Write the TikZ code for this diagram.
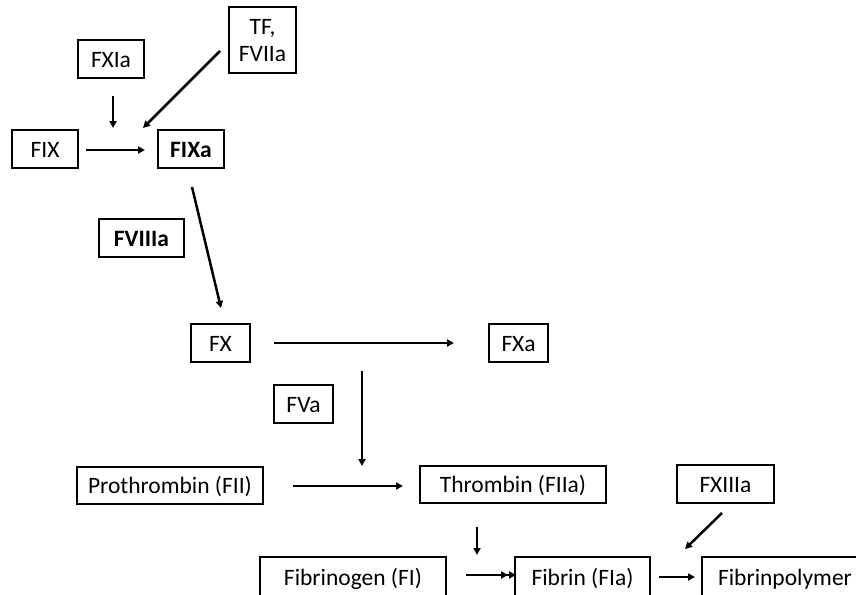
\documentclass[tikz,border=0pt]{standalone}
\usepackage{fontspec}
\setmainfont{Carlito}
\usetikzlibrary{arrows.meta}
\tikzset{
  box/.style={draw=black, line width=1.2pt, rectangle, inner sep=0pt,
    font=\fontsize{23.5}{27}\selectfont, text height=19.5pt, text depth=3pt},
  emptybox/.style={draw=black, line width=1.2pt, rectangle, inner sep=0pt},
  lbl/.style={font=\fontsize{23.5}{27}\selectfont, inner sep=0pt, anchor=base},
  arr/.style={line width=2.5pt, -{Triangle[length=7pt,width=7pt]}},
}
\begin{document}
\begin{tikzpicture}[x=1pt,y=-1pt]
\useasboundingbox (0,0) rectangle (856,594);
\clip (0,0) rectangle (856,594);
\fill[white] (0,0) rectangle (856,594);
% boxes
\node[box, minimum width=66pt, minimum height=38pt] (FXIa) at (111,59) {FXIa};
\node[emptybox, minimum width=67pt, minimum height=66pt] (TF) at (262.5,40) {};
\node[lbl] (TFa) at (262.5,35) {TF,};
\node[lbl] (TFb) at (262.5,61) {FVIIa};
\node[box, minimum width=66pt, minimum height=38pt] (FIX) at (45,149) {FIX};
\node[box, minimum width=66pt, minimum height=38pt] (FIXa) at (191,149) {\bfseries FIXa};
\node[box, minimum width=85pt, minimum height=38pt] (FVIIIa) at (141.5,238) {\bfseries FVIIIa};
\node[box, minimum width=59pt, minimum height=38pt] (FX) at (220.5,343) {FX};
\node[box, minimum width=59pt, minimum height=38pt] (FXa) at (518.5,343) {FXa};
\node[box, minimum width=59pt, minimum height=38pt] (FVa) at (303.5,404) {FVa};
\node[box, minimum width=186pt, minimum height=37pt] (FII) at (170,485.5) {Prothrombin (FII)};
\node[box, minimum width=186pt, minimum height=37pt] (FIIa) at (513,484.5) {Thrombin (FIIa)};
\node[box, minimum width=97pt, minimum height=38pt] (FXIIIa) at (725.5,484) {FXIIIa};
\node[box, minimum width=186pt, minimum height=40pt] (FI) at (353,577) {Fibrinogen (FI)};
\node[box, minimum width=135pt, minimum height=40pt] (FIa) at (582.5,577) {Fibrin (FIa)};
\node[box, minimum width=166pt, minimum height=40pt] (FP) at (785,577) {Fibrinpolymer};
% free arrow ends
\coordinate (a1s) at (113,96);   \coordinate (a1e) at (113,128);
\coordinate (a2s) at (220,51);   \coordinate (a2e) at (143,128);
\coordinate (a3s) at (86,150);   \coordinate (a3e) at (145,150);
\coordinate (a4s) at (192,187);  \coordinate (a4e) at (221,308);
\coordinate (a5s) at (274,343);  \coordinate (a5e) at (454,343);
\coordinate (a6s) at (362,371);  \coordinate (a6e) at (362,466);
\coordinate (a7s) at (293,486);  \coordinate (a7e) at (403,486);
\coordinate (a8s) at (477,527);  \coordinate (a8e) at (477,555);
\coordinate (a9s) at (466,575);  \coordinate (a9m) at (508,575); \coordinate (a9e) at (516,575);
\coordinate (a10s) at (659,577); \coordinate (a10e) at (695,577);
\coordinate (a11s) at (722,513); \coordinate (a11e) at (685,549);
% arrows
\draw[arr] (a1s) -- (a1e);
\draw[arr] (a2s) -- (a2e);
\draw[arr] (a3s) -- (a3e);
\draw[arr] (a4s) -- (a4e);
\draw[arr] (a5s) -- (a5e);
\draw[arr] (a6s) -- (a6e);
\draw[arr] (a7s) -- (a7e);
\draw[arr] (a8s) -- (a8e);
\draw[arr] (a9s) -- (a9m);
\draw[arr] (a9s) -- (a9e);
\draw[arr] (a10s) -- (a10e);
\draw[arr] (a11s) -- (a11e);
\end{tikzpicture}
\end{document}
